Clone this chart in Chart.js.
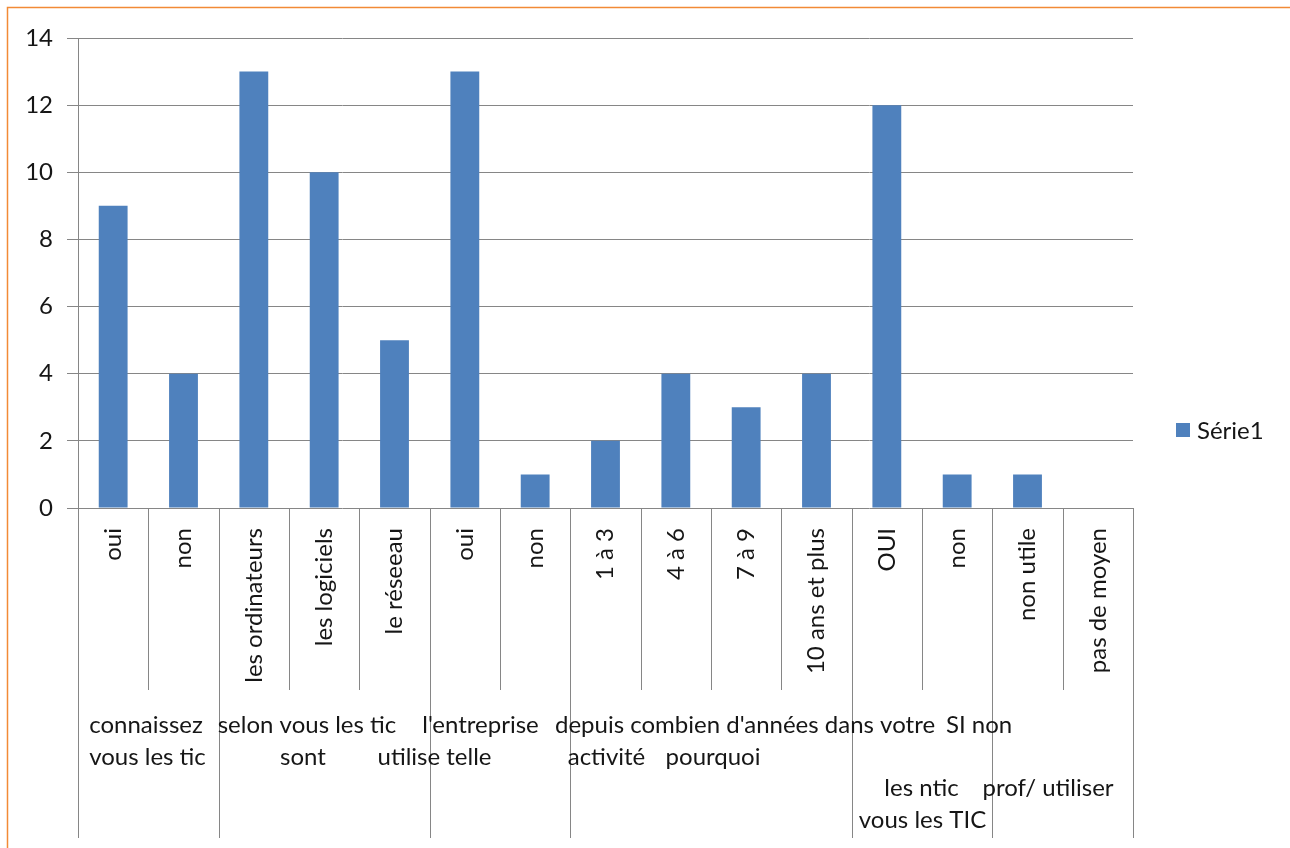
<!DOCTYPE html>
<html>
<head>
<meta charset="utf-8">
<title>Série1</title>
<script src="https://cdn.jsdelivr.net/npm/chart.js@4/dist/chart.umd.min.js"></script>
<style>
  html, body { margin: 0; padding: 0; background: #fff; }
  canvas { display: block; }
</style>
</head>
<body>
<canvas id="chart" width="1290" height="848"></canvas>
<script>
// categories, in axis order
const categories = ['oui', 'non', 'les ordinateurs', 'les logiciels', 'le réseeau', 'oui', 'non',
  '1 à 3', '4 à 6', '7 à 9', '10 ans et plus', 'OUI', 'non', 'non utile', 'pas de moyen'];
const serie1 = [9, 4, 13, 10, 5, 13, 1, 2, 4, 3, 4, 12, 1, 1, 0];

// second level of the axis: how many categories each group covers
const groupSizes = [2, 3, 2, 4, 2, 2];
// text pieces of the group labels
const groupText = ['connaissez', 'vous les tic', 'selon vous les tic', 'sont', "l'entreprise", 'utilise telle',
  "depuis combien d'années dans votre", 'activité', 'pourquoi', 'SI non', 'les ntic', 'vous les TIC', 'prof/ utiliser'];

const FONT = '24px Lato';
const INK = '#161616';
const GRID = '#868686';
const BLUE = '#4F81BD';

// [text line, centre as category index] for each groupText piece
const groupTextPlace = [[0, 0.467], [1, 0.488], [0, 2.756], [1, 2.699], [0, 5.223], [1, 4.569],
  [0, 8.984], [1, 7.014], [1, 8.529], [0, 12.311], [2, 11.493], [3, 11.507], [2, 13.292]];

const multiLevelAxis = {
  id: 'multiLevelAxis',
  afterDraw(chart) {
    const ctx = chart.ctx;
    const x = chart.scales.x;
    const area = chart.chartArea;
    const bottom = area.bottom;
    const n = categories.length;

    // group boundaries
    const edges = new Set([0]);
    let acc = 0;
    groupSizes.forEach(s => { acc += s; edges.add(acc); });

    ctx.save();
    ctx.strokeStyle = GRID;
    ctx.lineWidth = 1;
    for (let i = 0; i <= n; i++) {
      const px = Math.round(x.getPixelForValue(i - 0.5)) + 0.5;
      ctx.beginPath();
      ctx.moveTo(px, bottom);
      ctx.lineTo(px, edges.has(i) ? bottom + 330 : bottom + 182);
      ctx.stroke();
    }

    // rotated category labels
    ctx.fillStyle = INK;
    ctx.font = FONT;
    categories.forEach((label, i) => {
      ctx.save();
      ctx.translate(x.getPixelForValue(i), bottom + 20);
      ctx.rotate(-Math.PI / 2);
      ctx.textAlign = 'right';
      ctx.textBaseline = 'middle';
      ctx.fillText(label, 0, 0);
      ctx.restore();
    });

    // group labels
    ctx.textAlign = 'center';
    ctx.textBaseline = 'alphabetic';
    groupText.forEach((t, k) => {
      const [line, at] = groupTextPlace[k];
      ctx.fillText(t, x.getPixelForValue(at), bottom + 225 + line * 31.5);
    });

    // legend
    const ds = chart.data.datasets[0];
    ctx.fillStyle = ds.backgroundColor;
    ctx.fillRect(1176, 423, 14, 14);
    ctx.fillStyle = INK;
    ctx.textAlign = 'left';
    ctx.fillText(ds.label, 1197, 439);

    // outer frame
    ctx.strokeStyle = '#F28A36';
    ctx.lineWidth = 1.5;
    ctx.strokeRect(7.5, 7.5, 1400, 1000);
    ctx.restore();
  }
};

new Chart(document.getElementById('chart'), {
  type: 'bar',
  data: {
    labels: categories,
    datasets: [{
      label: 'Série1',
      data: serie1,
      backgroundColor: BLUE,
      categoryPercentage: 1,
      barPercentage: 0.41
    }]
  },
  options: {
    responsive: false,
    devicePixelRatio: 1,
    animation: false,
    layout: { padding: { left: 0, top: 38, right: 157, bottom: 0 } },
    plugins: { legend: { display: false }, tooltip: { enabled: false } },
    scales: {
      x: {
        ticks: { display: false },
        grid: { display: false },
        border: { display: false },
        afterFit(scale) { scale.height = 340; }
      },
      y: {
        min: 0,
        max: 14,
        ticks: { stepSize: 2, color: INK, font: { family: 'Lato', size: 24 }, padding: 14 },
        grid: { color: GRID, tickLength: 11, drawTicks: true },
        border: { color: GRID },
        afterFit(scale) { scale.width = 78; }
      }
    }
  },
  plugins: [multiLevelAxis]
});
</script>
</body>
</html>
